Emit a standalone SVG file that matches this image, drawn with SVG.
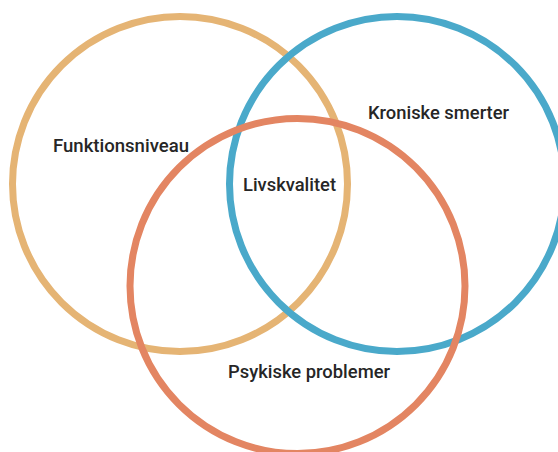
<svg xmlns="http://www.w3.org/2000/svg" width="558" height="452" viewBox="0 0 558 452">
  <style>
    .ring { fill: none; stroke-width: 7; }
    .lbl { font-family: Roboto, "Liberation Sans", sans-serif; font-weight: 500; font-size: 18px; fill: #262626; }
  </style>
  <rect width="558" height="452" fill="#ffffff"/>
  <g id="connectors"/>
  <g id="node-funktionsniveau">
    <circle class="ring" cx="180" cy="184" r="167.5" stroke="#E5B474"/>
  </g>
  <g id="node-kroniske-smerter">
    <circle class="ring" cx="397" cy="184" r="167.5" stroke="#4AA9CA"/>
  </g>
  <g id="node-psykiske-problemer">
    <circle class="ring" cx="297.5" cy="286" r="167.5" stroke="#E38562"/>
  </g>
  <g id="labels">
    <text class="lbl" x="53" y="152" textLength="136" lengthAdjust="spacingAndGlyphs">Funktionsniveau</text>
    <text class="lbl" x="368" y="119" textLength="141" lengthAdjust="spacingAndGlyphs">Kroniske smerter</text>
    <text class="lbl" x="243" y="191" textLength="93" lengthAdjust="spacingAndGlyphs">Livskvalitet</text>
    <text class="lbl" x="228" y="378" textLength="162" lengthAdjust="spacingAndGlyphs">Psykiske problemer</text>
  </g>
</svg>
